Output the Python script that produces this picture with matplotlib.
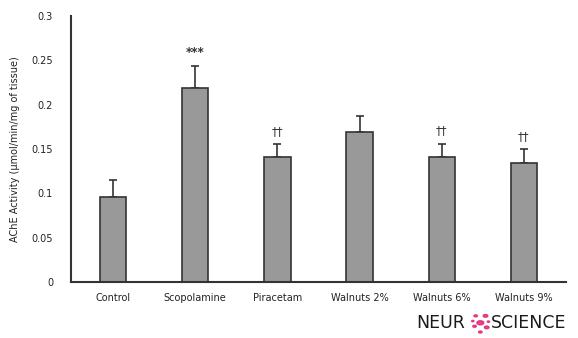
import matplotlib.pyplot as plt
from matplotlib.patches import Circle

# AChE activity per group (mean and SEM)
groups = ['Control', 'Scopolamine', 'Piracetam', 'Walnuts 2%', 'Walnuts 6%', 'Walnuts 9%']
means = [0.096, 0.219, 0.141, 0.169, 0.141, 0.134]
errors = [0.019, 0.025, 0.014, 0.018, 0.015, 0.016]
marks = ['', '***', '††', '', '††', '††']

fig = plt.figure(figsize=(5.78, 3.38), dpi=100)
ax = fig.add_axes([0.123, 0.166, 0.856, 0.787])

x = range(len(groups))
ax.bar(x, means, width=0.32, color='#999999', edgecolor='#333333', linewidth=1.2, zorder=2)
ax.errorbar(x, means, yerr=[[0] * len(errors), errors], fmt='none', ecolor='#333333',
            elinewidth=1.2, capsize=3, capthick=1.2, zorder=1)

for xi, m, e, s in zip(x, means, errors, marks):
    if s:
        ax.text(xi, m + e + 0.007, s, ha='center', va='bottom', fontsize=8.5,
                color='#333333', fontweight='bold' if s == '***' else 'normal')

ax.set_xlim(-0.51, 5.51)
ax.set_ylim(0, 0.3)
ax.set_xticks(list(x))
ax.set_xticklabels(groups, fontsize=7, color='#222222')
ax.set_yticks([0, 0.05, 0.1, 0.15, 0.2, 0.25, 0.3])
ax.set_yticklabels(['0', '0.05', '0.1', '0.15', '0.2', '0.25', '0.3'], fontsize=7, color='#222222')
ax.tick_params(axis='x', length=0, pad=8)
ax.tick_params(axis='y', length=0, pad=13)
ax.set_ylabel('AChE Activity (µmol/min/mg of tissue)', fontsize=7, color='#222222', labelpad=8)

for side in ['top', 'right']:
    ax.spines[side].set_visible(False)
for side in ['left', 'bottom']:
    ax.spines[side].set_color('#333333')
    ax.spines[side].set_linewidth(1.5)

# journal logo
fig.text(0.721, 0.018, 'NEUR', fontsize=12.5, color='#1a1a1a', ha='left', va='bottom')
fig.text(0.849, 0.018, 'SCIENCE', fontsize=12.5, color='#1a1a1a', ha='left', va='bottom')
cx, cy = 0.831, 0.045
for dx, dy, r in [(0.0, 0.0, 0.006), (0.009, 0.012, 0.004), (-0.008, 0.012, 0.003),
                  (0.011, -0.008, 0.004), (-0.010, -0.006, 0.003), (0.0, -0.016, 0.003),
                  (0.014, 0.002, 0.002), (-0.013, 0.003, 0.002)]:
    fig.patches.append(Circle((cx + dx, cy + dy * 578 / 338), r, transform=fig.transFigure,
                              color='#e0307a', alpha=0.9))

fig.savefig('out.png', dpi=100)
